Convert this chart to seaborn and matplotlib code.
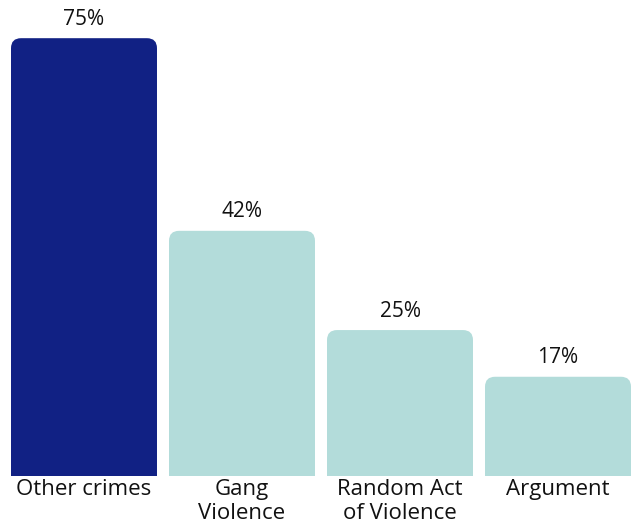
import matplotlib
matplotlib.use("Agg")
import matplotlib.pyplot as plt
import seaborn as sns
import pandas as pd
from matplotlib.patches import FancyBboxPatch

categories = ["Other crimes", "Gang\nViolence", "Random Act\nof Violence", "Argument"]
values = [75, 42, 25, 17]
colors = ["#112184", "#B3DCDA", "#B3DCDA", "#B3DCDA"]

sns.set_theme(style="white")
plt.rcParams["font.family"] = ["Open Sans", "DejaVu Sans"]

df = pd.DataFrame({"category": categories, "value": values})

W, H = 631, 526
fig = plt.figure(figsize=(W / 100, H / 100), dpi=100)
ax = fig.add_axes([11 / W, 50 / H, 620 / W, 467 / H])

bar_w = 0.924
sns.barplot(data=df, x="category", y="value", hue="category", palette=colors,
            width=bar_w, legend=False, ax=ax, saturation=1)

ax.set_xlim(-bar_w / 2, 3 + bar_w / 2)
ax.set_ylim(0, 80)

# rounded tops: replace each bar with a rounded box that dips below the axis
px_x = 620 / (3 + bar_w)
px_y = 467 / 80
r_px = 10
r_x = r_px / px_x
r_y = r_px / px_y
for patch in list(ax.patches):
    x0, w = patch.get_x(), patch.get_width()
    h = patch.get_height()
    fc = patch.get_facecolor()
    patch.set_visible(False)
    box = FancyBboxPatch((x0, -5), w, h + 5,
                         boxstyle=f"round,pad=0,rounding_size={r_x}",
                         mutation_aspect=r_y / r_x,
                         facecolor=fc, edgecolor="none", clip_on=True)
    ax.add_patch(box)

for i, v in enumerate(values):
    ax.annotate(f"{v}%", (i, v), xytext=(0, 6), textcoords="offset points",
                ha="center", va="bottom", fontsize=15, color="#111111")

ax.set_xticks(range(len(categories)))
ax.set_xticklabels(categories, fontsize=16, color="#111111", linespacing=1.22)
ax.tick_params(axis="x", length=0, pad=2)
ax.set_yticks([])
ax.set_xlabel("")
ax.set_ylabel("")
for s in ax.spines.values():
    s.set_visible(False)

fig.savefig("out.png", dpi=100, facecolor="white")
